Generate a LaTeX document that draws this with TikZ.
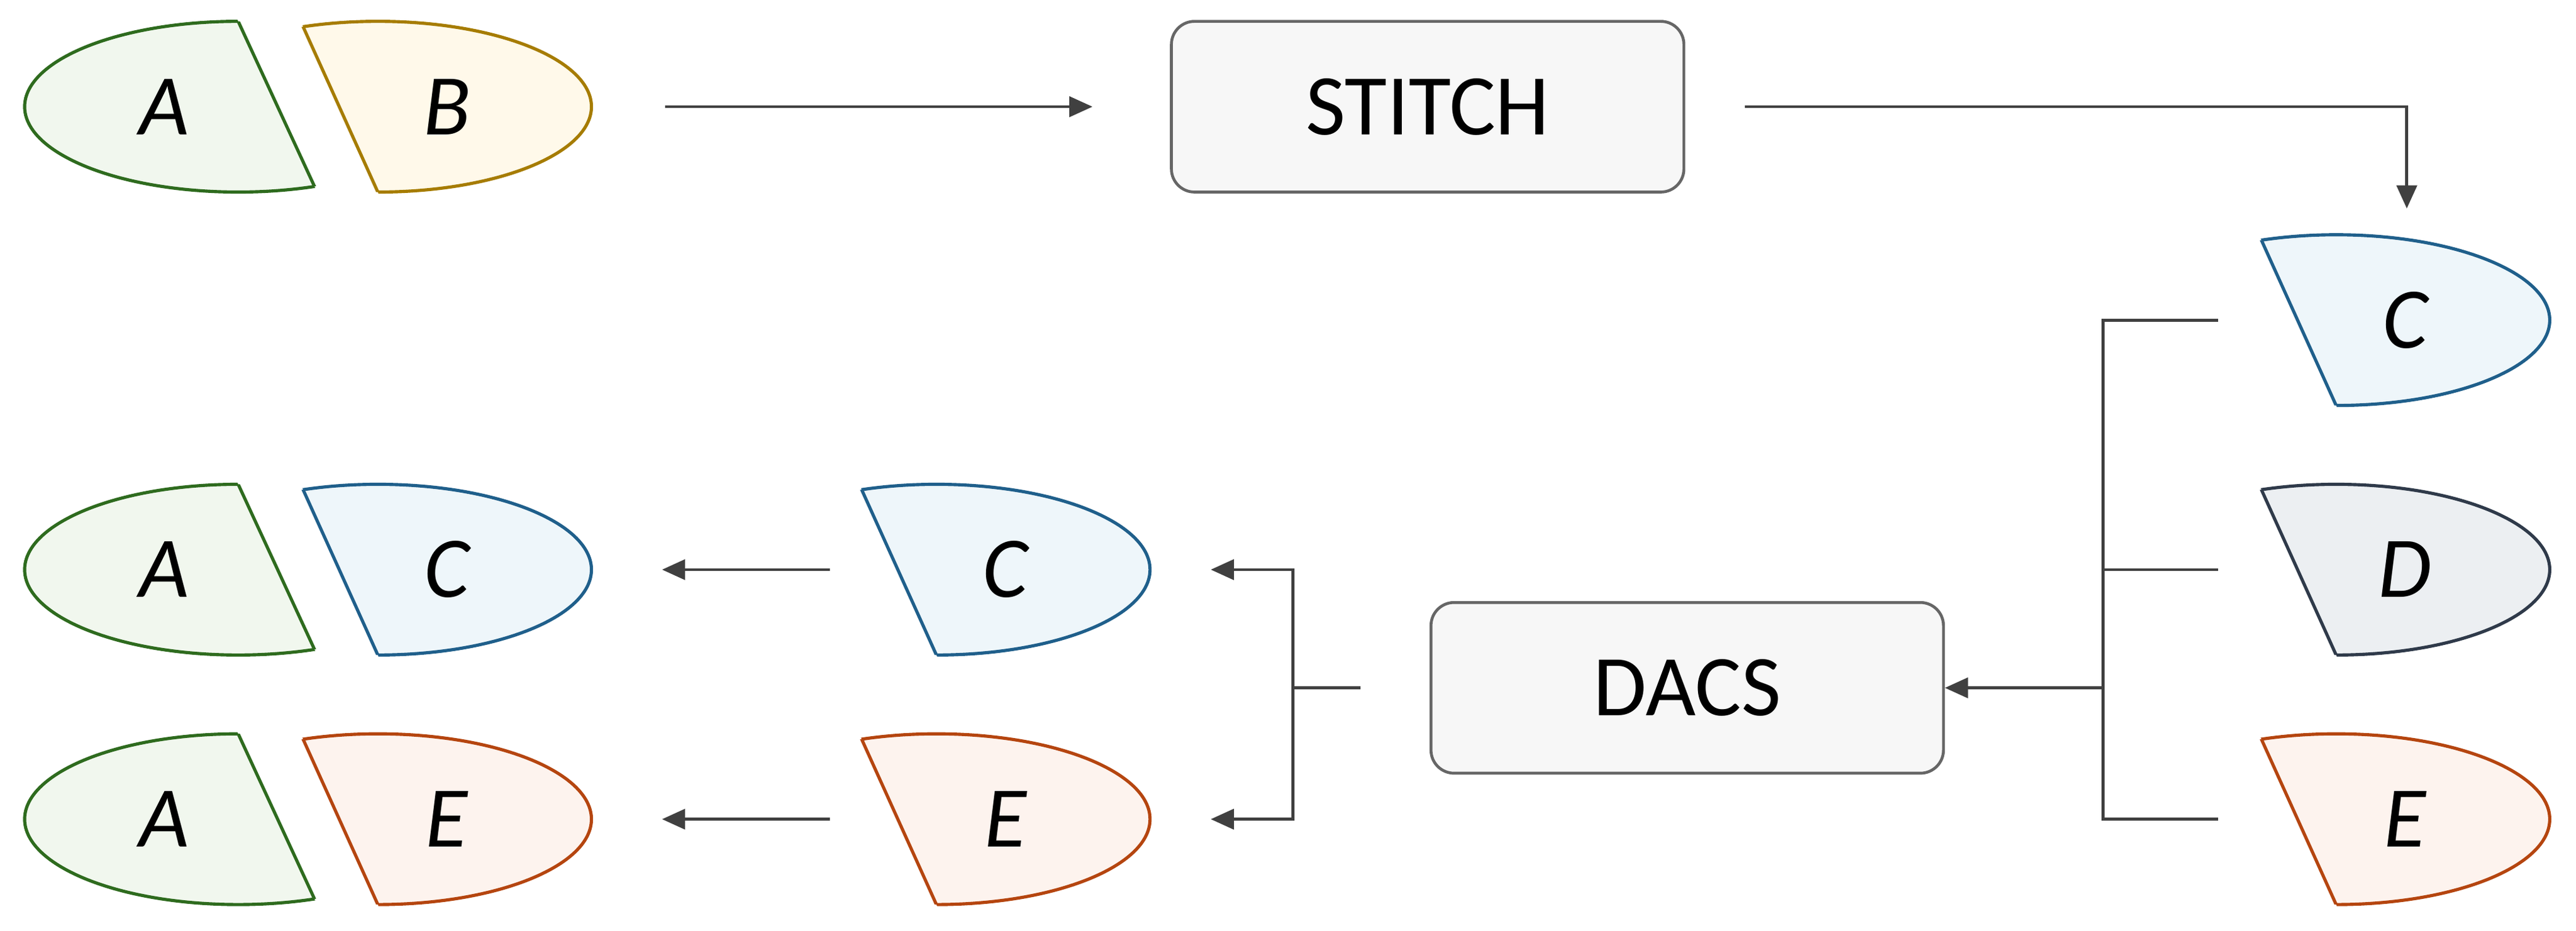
\documentclass[tikz,border=0pt]{standalone}
\usepackage{fontspec}
\setmainfont{Carlito}
\usetikzlibrary{arrows.meta}
\definecolor{gA}{HTML}{2E6B1E}\definecolor{fA}{HTML}{F1F7EE}
\definecolor{gB}{HTML}{A67C00}\definecolor{fB}{HTML}{FFF9EA}
\definecolor{gC}{HTML}{1F5F8B}\definecolor{fC}{HTML}{EEF6FA}
\definecolor{gD}{HTML}{2F3A4A}\definecolor{fD}{HTML}{ECEFF2}
\definecolor{gE}{HTML}{B5450F}\definecolor{fE}{HTML}{FDF3EE}
\definecolor{ln}{HTML}{404040}
\newcommand\lpiece[6]{% name,cx,cy,edge,fill,label
\begin{scope}[shift={(#2,#3)}]
\begin{scope}\clip (-140,-60)--(-3.7,-60)--(51.7,60)--(-140,60)--cycle;
\fill[#5] (0,0) ellipse [x radius=130,y radius=52];
\draw[#4,line width=1.1pt] (0,0) ellipse [x radius=130,y radius=52];\end{scope}
\begin{scope}\clip (0,0) ellipse [x radius=130,y radius=52];
\draw[#4,line width=1.1pt] (-3.7,-60)--(51.7,60);\end{scope}
\node[lab] (#1) at (-45,0) {#6};
\end{scope}}
\newcommand\rpiece[6]{%
\begin{scope}[shift={(#2,#3)}]
\begin{scope}\clip (140,-60)--(-50.6,-60)--(3.6,60)--(140,60)--cycle;
\fill[#5] (0,0) ellipse [x radius=130,y radius=52];
\draw[#4,line width=1.1pt] (0,0) ellipse [x radius=130,y radius=52];\end{scope}
\begin{scope}\clip (0,0) ellipse [x radius=130,y radius=52];
\draw[#4,line width=1.1pt] (-50.6,-60)--(3.6,60);\end{scope}
\node[lab] (#1) at (42,0) {#6};
\end{scope}}
\begin{document}
\begin{tikzpicture}[x=0.02cm,y=-0.02cm,
lab/.style={font=\fontsize{30}{30}\selectfont\itshape},
box/.style={draw=gray!80!black,fill=gray!6,rounded corners=8pt,line width=1pt,minimum width=6.24cm,minimum height=2.08cm,font=\fontsize{30}{30}\selectfont},
con/.style={ln,line width=1pt},
arr/.style={con,-{Triangle[length=8pt,width=7pt]}}]
\useasboundingbox (0,0) rectangle (1568,567);
\lpiece{a1}{145}{65}{gA}{fA}{A}
\rpiece{b1}{230}{65}{gB}{fB}{B}
\node[box] (stitch) at (869,65) {STITCH};
\rpiece{c1}{1422}{195}{gC}{fC}{C}
\rpiece{d1}{1422}{347}{gD}{fD}{D}
\rpiece{e1}{1422}{499}{gE}{fE}{E}
\node[box] (dacs) at (1027,419) {DACS};
\rpiece{c2}{570}{347}{gC}{fC}{C}
\rpiece{e2}{570}{499}{gE}{fE}{E}
\lpiece{a2}{145}{347}{gA}{fA}{A}
\rpiece{c3}{230}{347}{gC}{fC}{C}
\lpiece{a3}{145}{499}{gA}{fA}{A}
\rpiece{e3}{230}{499}{gE}{fE}{E}
\coordinate (p1) at (405,65); \coordinate (p2) at (665,65);
\draw[arr] (p1)--(p2);
\coordinate (q1) at (1062,65); \coordinate (q2) at (1465,127);
\draw[arr] (q1)-|(q2);
\coordinate (r1) at (1350,195); \coordinate (r2) at (1350,347); \coordinate (r3) at (1350,499);
\coordinate (rb) at (1280,419);
\draw[con] (r1)-|(1280,499)--(r3) (r2)--(1280,347);
\draw[arr] (rb)--(dacs.east);
\coordinate (l0) at (828,419); \coordinate (l1) at (737,347); \coordinate (l2) at (737,499);
\draw[con] (l0)--(787,419);
\draw[arr] (787,419)|-(l1);
\draw[arr] (787,419)|-(l2);
\coordinate (m1) at (505,347); \coordinate (m2) at (403,347);
\coordinate (n1) at (505,499); \coordinate (n2) at (403,499);
\draw[arr] (m1)--(m2); \draw[arr] (n1)--(n2);
\end{tikzpicture}
\end{document}
